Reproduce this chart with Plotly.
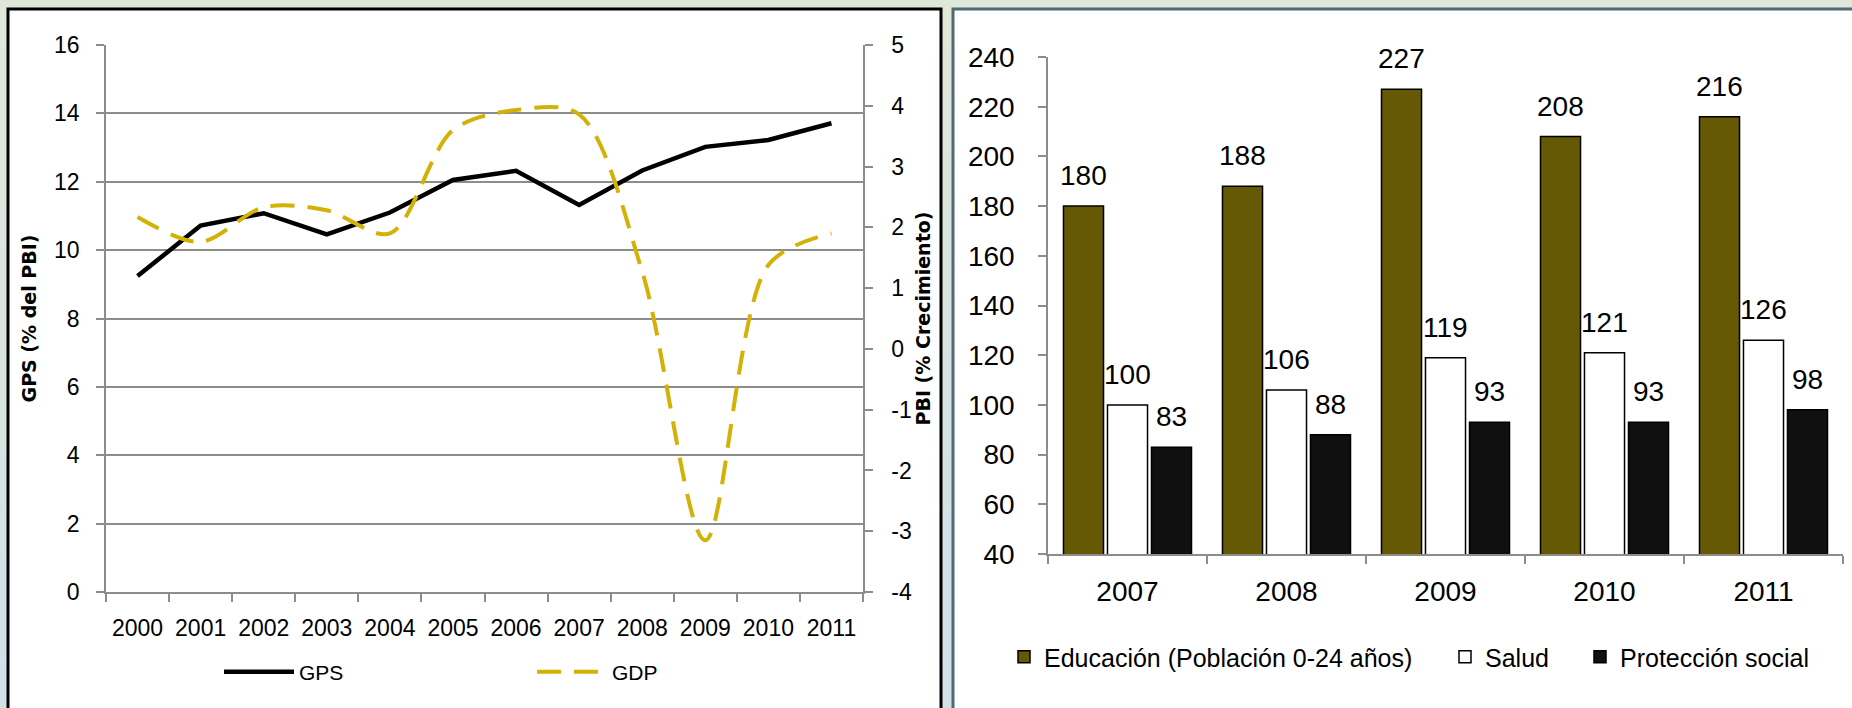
import plotly.graph_objects as go

# datos gasto publico social (panel izquierdo)
YEARS_LINE = ["2000", "2001", "2002", "2003", "2004", "2005",
              "2006", "2007", "2008", "2009", "2010", "2011"]
GPS = [9.24, 10.72, 11.08, 10.46, 11.1, 12.05, 12.32, 11.32, 12.33, 13.02, 13.22, 13.71]
GDP = [2.17, 1.76, 2.33, 2.28, 1.9, 3.6, 3.93, 3.86, 1.27, -3.15, 1.38, 1.9]
GDP_TICKS = [-4, -3, -2, -1, 0, 1, 2, 3, 4, 5]
GDP_TICK_LABELS = ["-4", "-3", "-2", "-1", "0", "1", "2", "3", "4", "5"]

# gasto por habitante (panel derecho)
YEARS_BAR = ["2007", "2008", "2009", "2010", "2011"]
EDUCACION = [180, 188, 227, 208, 216]
SALUD = [100, 106, 119, 121, 126]
PROTECCION = [83, 88, 93, 93, 98]

W, H = 1852, 708
FONT = "Liberation Sans, Arial, sans-serif"
AXIS_GREY = "#8c8c8c"
OLIVE = "#655905"
GOLD = "#d4b106"


def fx(px):
    return px / W


def fy(px):
    return 1 - px / H


fig = go.Figure()

# --- panel izquierdo: lineas ---
fig.add_trace(go.Scatter(
    x=YEARS_LINE, y=GPS, name="GPS", mode="lines",
    line=dict(color="#000000", width=4.5),
    xaxis="x", yaxis="y", legend="legend",
))
fig.add_trace(go.Scatter(
    x=YEARS_LINE, y=GDP, name="GDP", mode="lines",
    line=dict(color=GOLD, width=4, dash="24px,13px", shape="spline", smoothing=0.9),
    xaxis="x", yaxis="y2", legend="legend",
))

# --- panel derecho: barras ---
bar_series = [
    ("Educación (Población 0-24 años)", EDUCACION, OLIVE, "legend2"),
    ("Salud", SALUD, "#ffffff", "legend3"),
    ("Protección social", PROTECCION, "#101010", "legend4"),
]
for name, vals, color, leg in bar_series:
    fig.add_trace(go.Bar(
        x=YEARS_BAR, y=vals, name=name,
        marker=dict(color=color, line=dict(color="#000000", width=1.5)),
        xaxis="x2", yaxis="y3", legend=leg,
    ))

# etiquetas de valor encima de cada barra (x = indice de categoria)
BARGAP = 0.17
slot = (1843 - 1048) / len(YEARS_BAR) * (1 - BARGAP) / len(bar_series)
annotations = []
for i, (name, vals, color, leg) in enumerate(bar_series):
    for j, v in enumerate(vals):
        annotations.append(dict(
            x=j, y=v, xref="x2", yref="y3", text=str(v), showarrow=False,
            xshift=(i - 1) * slot, yshift=13, yanchor="bottom",
            font=dict(size=28, color="#000000", family=FONT),
        ))

# fondo con degradado y marcos de los paneles
shapes = []
top_c = (223, 231, 216)
bot_c = (208, 225, 234)
n_bands = 14
for k in range(n_bands):
    t = k / (n_bands - 1)
    c = tuple(int(top_c[j] + (bot_c[j] - top_c[j]) * t) for j in range(3))
    shapes.append(dict(
        type="rect", xref="paper", yref="paper", layer="below",
        x0=0, x1=1, y0=1 - (k + 1) / n_bands, y1=1 - k / n_bands,
        fillcolor="rgb(%d,%d,%d)" % c, line=dict(width=0),
    ))
shapes.append(dict(
    type="rect", xref="paper", yref="paper", layer="below",
    x0=fx(8), x1=fx(941), y0=-0.05, y1=fy(9),
    fillcolor="#ffffff", line=dict(color="#000000", width=3),
))
shapes.append(dict(
    type="rect", xref="paper", yref="paper", layer="below",
    x0=fx(953), x1=1.05, y0=-0.05, y1=fy(9),
    fillcolor="#ffffff", line=dict(color="#4f6978", width=3),
))

axis_common = dict(
    showline=True, linecolor=AXIS_GREY, linewidth=1.5,
    ticks="outside", ticklen=8, tickcolor=AXIS_GREY, tickwidth=1.5,
    zeroline=False, automargin=False,
)
title_font = dict(size=19, family="DejaVu Sans, sans-serif", weight="bold")

fig.update_layout(
    width=W, height=H,
    margin=dict(l=0, r=0, t=0, b=0, autoexpand=False),
    paper_bgcolor="#dfe7d8",
    plot_bgcolor="rgba(0,0,0,0)",
    font=dict(family=FONT, color="#000000"),
    barmode="group", bargap=BARGAP, bargroupgap=0.09,
    shapes=shapes,
    annotations=annotations,
    xaxis=dict(
        domain=[fx(106), fx(863)], anchor="y", type="category",
        tickson="boundaries", range=[-0.5, 11.5], showgrid=False,
        tickfont=dict(size=23), ticklabelstandoff=15, **axis_common,
    ),
    yaxis=dict(
        domain=[fy(592), fy(45)], anchor="x", range=[0, 16], dtick=2,
        showgrid=True, gridcolor=AXIS_GREY, gridwidth=1.5,
        tickfont=dict(size=23), ticklabelstandoff=12,
        title=dict(text="GPS (% del PBI)", standoff=12, font=title_font),
        **axis_common,
    ),
    yaxis2=dict(
        overlaying="y", side="right", anchor="x", range=[-4, 5],
        tickvals=GDP_TICKS, ticktext=GDP_TICK_LABELS,
        showgrid=False, tickfont=dict(size=23), ticklabelstandoff=14,
        title=dict(text="PBI (% Crecimiento)", standoff=3, font=title_font),
        **axis_common,
    ),
    xaxis2=dict(
        domain=[fx(1048), fx(1843)], anchor="y3", type="category",
        categoryorder="array", categoryarray=YEARS_BAR, range=[-0.5, 4.5],
        tickson="boundaries", showgrid=False,
        tickfont=dict(size=28), ticklabelstandoff=12, **axis_common,
    ),
    yaxis3=dict(
        domain=[fy(554), fy(57)], anchor="x2", range=[40, 240], dtick=20,
        showgrid=False, tickfont=dict(size=28), ticklabelstandoff=18,
        **axis_common,
    ),
    legend=dict(
        orientation="h", x=fx(219), y=fy(672), xanchor="left", yanchor="middle",
        bgcolor="rgba(0,0,0,0)", font=dict(size=21), itemwidth=70,
        entrywidth=228, entrywidthmode="pixels",
    ),
    legend2=dict(
        orientation="h", x=fx(1004), y=fy(657), xanchor="left", yanchor="middle",
        bgcolor="rgba(0,0,0,0)", font=dict(size=25),
    ),
    legend3=dict(
        orientation="h", x=fx(1445), y=fy(657), xanchor="left", yanchor="middle",
        bgcolor="rgba(0,0,0,0)", font=dict(size=25),
    ),
    legend4=dict(
        orientation="h", x=fx(1580), y=fy(657), xanchor="left", yanchor="middle",
        bgcolor="rgba(0,0,0,0)", font=dict(size=25),
    ),
)

# quitar el margen por defecto del body para que la figura empiece en (0, 0)
fig.write_html(
    "out.html",
    config={"displayModeBar": False},
    post_script="document.body.style.margin = '0';",
)
